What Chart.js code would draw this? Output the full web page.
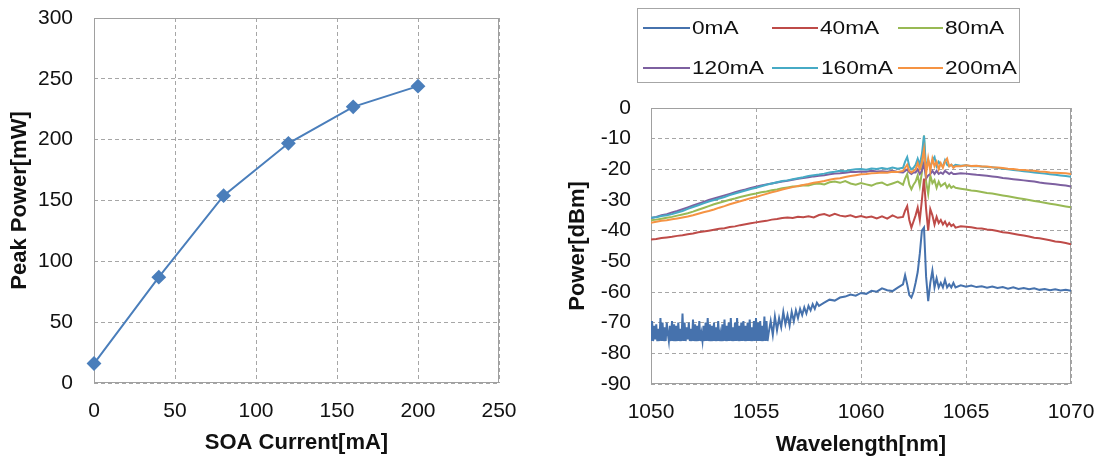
<!DOCTYPE html>
<html>
<head>
<meta charset="utf-8">
<script src="https://cdn.jsdelivr.net/npm/chart.js@4.4.1/dist/chart.umd.min.js"></script>
<style>
  body { margin: 0; background: #fff; width: 1101px; height: 461px; overflow: hidden; position: relative;
         font-family: "Liberation Sans", Arial, sans-serif; }
  canvas { position: absolute; top: 0; }
  #powerChart { left: 0; }
  #spectrumChart { left: 545px; }
  #legend { position: absolute; left: 637px; top: 8px; width: 381px; height: 73px; border: 1px solid #a6a6a6; }
  .lg-line { position: absolute; height: 2px; }
  .lg-text { position: absolute; font-size: 18px; line-height: 20px; color: #111; white-space: nowrap;
             transform: scaleX(1.26); transform-origin: left center; }
</style>
</head>
<body>
<canvas id="powerChart" width="540" height="461"></canvas>
<canvas id="spectrumChart" width="556" height="461"></canvas>
<div id="legend"></div>

<script>
// left panel: peak power vs SOA current
const currentMA = [0, 40, 80, 120, 160, 200];
const peakPowerMW = [16, 87, 154, 197, 227, 244];

// right panel: spectra
const seriesLabels = ['0mA', '40mA', '80mA', '120mA', '160mA', '200mA'];

// wavelength grid used by 40..200 mA traces
const wlMain = [
  1050, 1050.25, 1050.5, 1050.75, 1051, 1051.25, 1051.5, 1051.75, 1052, 1052.25, 1052.5, 1052.75,
  1053, 1053.25, 1053.5, 1053.75, 1054, 1054.25, 1054.5, 1054.75, 1055, 1055.25, 1055.5, 1055.75,
  1056, 1056.25, 1056.5, 1056.75, 1057, 1057.25, 1057.5, 1057.75, 1058, 1058.25, 1058.5, 1058.75,
  1059, 1059.25, 1059.5, 1059.75, 1060, 1060.25, 1060.5, 1060.75, 1061, 1061.25, 1061.5, 1061.75,
  1062, 1062.1, 1062.2, 1062.3, 1062.4, 1062.5, 1062.6, 1062.7, 1062.8, 1062.9,
  1063, 1063.1, 1063.2, 1063.3, 1063.4, 1063.5, 1063.6, 1063.7, 1063.8, 1063.9,
  1064, 1064.1, 1064.2, 1064.3, 1064.4, 1064.5,
  1064.75, 1065, 1065.25, 1065.5, 1065.75, 1066, 1066.25, 1066.5, 1066.75, 1067, 1067.25,
  1067.5, 1067.75, 1068, 1068.25, 1068.5, 1068.75, 1069, 1069.25, 1069.5, 1069.75, 1070
];

// finer grid for the noisy floor of the 0 mA trace (1050 .. 1058 nm)
const wlFloor = [
  1050, 1050.05, 1050.1, 1050.15, 1050.2, 1050.25, 1050.3, 1050.35, 1050.4, 1050.45,
  1050.5, 1050.55, 1050.6, 1050.65, 1050.7, 1050.75, 1050.8, 1050.85, 1050.9, 1050.95,
  1051, 1051.05, 1051.1, 1051.15, 1051.2, 1051.25, 1051.3, 1051.35, 1051.4, 1051.45,
  1051.5, 1051.55, 1051.6, 1051.65, 1051.7, 1051.75, 1051.8, 1051.85, 1051.9, 1051.95,
  1052, 1052.05, 1052.1, 1052.15, 1052.2, 1052.25, 1052.3, 1052.35, 1052.4, 1052.45,
  1052.5, 1052.55, 1052.6, 1052.65, 1052.7, 1052.75, 1052.8, 1052.85, 1052.9, 1052.95,
  1053, 1053.05, 1053.1, 1053.15, 1053.2, 1053.25, 1053.3, 1053.35, 1053.4, 1053.45,
  1053.5, 1053.55, 1053.6, 1053.65, 1053.7, 1053.75, 1053.8, 1053.85, 1053.9, 1053.95,
  1054, 1054.05, 1054.1, 1054.15, 1054.2, 1054.25, 1054.3, 1054.35, 1054.4, 1054.45,
  1054.5, 1054.55, 1054.6, 1054.65, 1054.7, 1054.75, 1054.8, 1054.85, 1054.9, 1054.95,
  1055, 1055.05, 1055.1, 1055.15, 1055.2, 1055.25, 1055.3, 1055.35, 1055.4, 1055.45,
  1055.5, 1055.55, 1055.6,
  1055.7, 1055.8, 1055.9, 1056, 1056.1, 1056.2, 1056.3, 1056.4, 1056.5, 1056.6, 1056.7, 1056.8,
  1056.9, 1057, 1057.1, 1057.2, 1057.3, 1057.4, 1057.5, 1057.6, 1057.7, 1057.8, 1057.9, 1058
];

const p0 = [
  // floor 1050.00 - 1055.60
  -76, -69.5, -76, -71, -75.5, -70.5, -76, -72, -76, -68.5,
  -76, -70, -76, -71.5, -76, -70, -73.5, -76, -71, -76,
  -69.5, -76, -70.5, -76, -71, -76, -70, -76, -72, -76,
  -67, -76, -70, -76, -71.5, -75.5, -70, -76, -72, -76,
  -69, -76, -70.5, -76, -71, -76, -69.5, -76, -73.5, -76,
  -71, -76, -70, -76, -68.5, -76, -70.5, -76, -71, -76,
  -70, -76, -71.5, -76, -69.5, -76, -73.5, -76, -70.5, -76,
  -69, -76, -71, -76, -70, -76, -68.5, -76, -71.5, -76,
  -70, -76, -68.5, -76, -71, -76, -70, -76, -69.5, -76,
  -71, -76, -70, -76, -69, -76, -71.5, -76, -69.5, -76,
  -68.5, -76, -70, -76, -69.5, -76, -71, -76, -68, -76,
  -69.5, -76, -73.5,
  // 1055.7 - 1058.0
  -69.5, -74, -68, -72.5, -68.5, -71.5, -66.5, -70.5, -67.5, -71, -66.5, -69.5,
  -66, -68.5, -65.5, -67.5, -65, -67, -64.5, -66, -64, -65.5, -63.5, -64.5,
  // 1058.25 - 1061.75
  -63.5, -62.5, -62.8, -61.8, -61.5, -60.8, -61.2, -60.3, -60.6, -59.6, -59.9, -58.8, -59.4, -59.7, -58.6,
  // 1062.0 - 1064.5
  -57.5, -54.5, -57.5, -61, -61.8, -60, -57, -53.5, -47.5, -40, -39, -55, -63,
  -57, -53, -58.5, -55.5, -58.5, -57, -58.5, -56, -58.5, -57.5, -58.5, -57, -58.5,
  // 1064.75 - 1070
  -57.8, -58.3, -57.9, -58.4, -58.1, -58.6, -58.2, -58.7, -58.4, -58.9, -58.5,
  -59.0, -58.7, -59.1, -58.8, -59.3, -59.0, -59.4, -59.1, -59.5, -59.3, -59.6
];

const p40 = [
  -42.9, -42.7, -42.4, -42.2, -42.0, -41.7, -41.5, -41.2, -40.9, -40.5, -40.3, -40.0,
  -39.7, -39.4, -39.2, -38.8, -38.6, -38.2, -37.9, -37.6, -37.3, -37.0, -36.8, -36.4,
  -36.2, -35.9, -35.7, -35.9, -35.5, -35.6, -35.3, -35.7, -34.9, -34.6, -35.2, -34.5,
  -35.1, -35.4, -35.0, -35.6, -35.2, -35.7, -35.4, -36.0, -35.3, -36.1, -35.0, -35.8,
  -35.5, -33.5, -32, -36.5, -39, -37, -35, -32.5, -36.5, -30,
  -23, -33, -40, -33, -35, -38, -35.5, -37.5, -36.5, -38,
  -37, -38.5, -37.5, -38.5, -38, -39,
  -38.6, -38.7, -38.9, -39.2, -39.3, -39.6, -39.8, -40.1, -40.5, -40.7, -41.0,
  -41.3, -41.6, -41.9, -42.3, -42.5, -42.8, -43.1, -43.5, -43.7, -44.0, -44.4
];

const p80 = [
  -36.6, -36.4, -36.1, -35.8, -35.5, -35.1, -34.7, -34.3, -33.8, -33.2, -32.6, -32.0,
  -31.4, -30.9, -30.4, -29.9, -29.5, -29.0, -28.6, -28.2, -27.9, -27.5, -27.2, -26.8,
  -26.6, -26.2, -25.9, -25.6, -25.5, -25.2, -25.3, -24.8, -24.6, -24.9, -24.2, -24.0,
  -24.4, -23.8, -24.6, -25.0, -24.5, -24.9, -25.3, -24.6, -24.3, -25.2, -24.6, -24.0,
  -25, -23, -21.5, -25, -26.5, -25, -24, -22, -25.5, -21,
  -9, -24, -28, -22, -24.5, -23.5, -26, -24, -25.5, -25,
  -24.5, -26, -25, -26, -25.5, -26,
  -26.3, -26.6, -26.9, -27.1, -27.4, -27.7, -27.9, -28.2, -28.5, -28.8, -29.1,
  -29.4, -29.7, -30.0, -30.3, -30.6, -30.9, -31.2, -31.5, -31.8, -32.1, -32.4
];

const p120 = [
  -35.9, -35.5, -35.0, -34.6, -34.1, -33.6, -33.0, -32.4, -31.8, -31.2, -30.6, -30.0,
  -29.5, -29.0, -28.5, -28.0, -27.5, -27.0, -26.6, -26.1, -25.7, -25.3, -24.9, -24.6,
  -24.3, -24.0, -23.7, -23.4, -23.1, -22.8, -22.6, -22.3, -22.1, -21.9, -21.6, -21.4,
  -21.3, -21.1, -20.9, -20.9, -20.7, -20.8, -20.5, -20.7, -20.6, -20.8, -20.5, -20.9,
  -21, -20.5, -20, -21, -21.5, -21, -21, -20, -21.5, -20.5,
  -18, -23, -22, -21.5, -20.5, -21.5, -20.5, -21.5, -21, -21.5,
  -20.5, -21, -21.5, -21, -21.5, -21.5,
  -21.3, -21.4, -21.6, -21.8, -21.9, -22.1, -22.3, -22.5, -22.8, -23.0, -23.2,
  -23.4, -23.6, -23.8, -24.0, -24.3, -24.5, -24.7, -24.9, -25.1, -25.3, -25.6
];

const p160 = [
  -35.8, -35.6, -35.2, -35.0, -34.6, -34.1, -33.6, -32.9, -32.3, -31.7, -31.1, -30.5,
  -30.0, -29.5, -29.0, -28.4, -27.9, -27.4, -26.9, -26.4, -26.0, -25.5, -25.0, -24.6,
  -24.2, -23.8, -23.6, -23.2, -22.9, -22.6, -22.2, -21.9, -21.7, -21.4, -21.0, -20.8,
  -20.5, -20.6, -20.2, -20.0, -19.9, -20.1, -19.7, -19.9, -19.6, -19.9, -19.4, -19.8,
  -19.5, -17.5, -16, -19, -20, -19.5, -18.5, -16.5, -18.5, -15,
  -9, -20, -17, -19.5, -17, -16, -19, -17.5, -18.5, -19,
  -17, -18.5, -19, -18.5, -19, -18.5,
  -18.8, -18.7, -19.0, -18.9, -19.1, -19.2, -19.3, -19.6, -19.8, -20.0, -20.2,
  -20.4, -20.6, -20.8, -21.0, -21.2, -21.4, -21.6, -21.8, -22.0, -22.2, -22.4
];

const p200 = [
  -37.4, -37.1, -36.8, -36.6, -36.3, -36.0, -35.7, -35.4, -35.0, -34.5, -34.0, -33.6,
  -33.1, -32.5, -32.0, -31.4, -30.9, -30.4, -29.9, -29.4, -29.0, -28.5, -28.0, -27.5,
  -27.1, -26.6, -26.2, -25.8, -25.4, -25.1, -24.8, -24.4, -24.1, -23.8, -23.4, -23.1,
  -22.9, -22.5, -22.2, -21.9, -21.6, -21.5, -21.3, -21.2, -21.0, -21.1, -20.8, -20.9,
  -20.5, -19.5, -18.5, -20.5, -21, -20.5, -20, -18, -20, -17.5,
  -13.5, -21.5, -16.5, -20.5, -16.5, -19, -17.5, -20, -18, -19.5,
  -17.5, -16.5, -19, -18.5, -19.5, -19,
  -19.0, -18.7, -18.9, -18.8, -19.1, -19.1, -19.3, -19.4, -19.6, -19.8, -19.9,
  -20.1, -20.2, -20.4, -20.5, -20.7, -20.8, -21.0, -21.1, -21.2, -21.3, -21.5
];

const seriesColors = ['#4672ad', '#be4b48', '#98b954', '#7d60a0', '#46aac5', '#f59343'];

const fontFamily = '"Liberation Sans", Arial, sans-serif';
const gridColor = '#a6a6a6';

// solid box round the plot area, under the data
const framePlugin = {
  id: 'frame',
  beforeDatasetsDraw(chart) {
    const { ctx, chartArea: a } = chart;
    ctx.save();
    ctx.strokeStyle = '#a0a0a0';
    ctx.lineWidth = 1;
    const l = Math.round(a.left) + 0.5, t = Math.round(a.top) + 0.5;
    const r = Math.round(a.right) - 0.5, b = Math.round(a.bottom) - 0.5;
    ctx.strokeRect(l, t, r - l, b - t);
    ctx.restore();
  }
};

// gap between tick label and axis goes in tickLength (invisible ticks), so it doesn't eat layout padding
function axis(min, max, step, title, opts) {
  return {
    type: 'linear', min: min, max: max,
    ticks: { stepSize: step, color: '#111', padding: 0, font: { family: fontFamily, size: 21 },
             callback: v => String(v) },
    grid: { color: gridColor, lineWidth: 1, drawTicks: true, tickLength: opts.gap, tickColor: 'rgba(0,0,0,0)' },
    border: { display: false, dash: [4, 3] },
    title: { display: true, text: title, color: '#111', padding: opts.titlePad,
             font: { family: fontFamily, size: 22, weight: 'bold' } },
    afterFit: opts.fit
  };
}

// left chart
new Chart(document.getElementById('powerChart'), {
  type: 'line',
  data: {
    datasets: [{
      data: currentMA.map((c, i) => ({ x: c, y: peakPowerMW[i] })),
      borderColor: '#4a7ebb', backgroundColor: '#4a7ebb', borderWidth: 2,
      pointStyle: 'rectRot', pointRadius: 6, pointHoverRadius: 6, clip: false
    }]
  },
  options: {
    responsive: false, animation: false, events: [],
    layout: { padding: { top: 18, right: 41, left: 0, bottom: 0 } },
    plugins: { legend: { display: false }, tooltip: { enabled: false } },
    scales: {
      x: axis(0, 250, 50, 'SOA Current[mA]', { gap: 16, titlePad: { bottom: 5 }, fit: s => { s.height = 78; } }),
      y: axis(0, 300, 50, 'Peak Power[mW]', { gap: 21, titlePad: { top: 7 }, fit: s => { s.width = 94; } })
    }
  },
  plugins: [framePlugin]
});

// right chart
const spectra = [p0, p40, p80, p120, p160, p200];
const wl0 = wlFloor.concat(wlMain.slice(33));

new Chart(document.getElementById('spectrumChart'), {
  type: 'line',
  data: {
    datasets: spectra.map((ys, i) => {
      const xs = i === 0 ? wl0 : wlMain;
      return {
        label: seriesLabels[i],
        data: ys.map((y, k) => ({ x: xs[k], y: y })),
        borderColor: seriesColors[i], borderWidth: 2,
        pointRadius: 0, tension: 0, order: spectra.length - i
      };
    })
  },
  options: {
    responsive: false, animation: false, events: [],
    layout: { padding: { top: 108, right: 30, left: 0, bottom: 0 } },
    plugins: { legend: { display: false }, tooltip: { enabled: false } },
    scales: {
      x: axis(1050, 1070, 5, 'Wavelength[nm]', { gap: 16, titlePad: { bottom: 3 }, fit: s => { s.height = 77; } }),
      y: axis(-90, 0, 10, 'Power[dBm]', { gap: 20, titlePad: { top: 20 }, fit: s => { s.width = 106; } })
    }
  },
  plugins: [framePlugin]
});

// legend box, two rows of three
const legendSlots = [
  { x1: 643, x2: 690, tx: 692, y: 28 }, { x1: 772, x2: 818, tx: 820, y: 28 }, { x1: 898, x2: 943, tx: 945, y: 28 },
  { x1: 643, x2: 690, tx: 692, y: 68 }, { x1: 772, x2: 818, tx: 821, y: 68 }, { x1: 898, x2: 943, tx: 945, y: 68 }
];
const legendBox = document.getElementById('legend');
seriesLabels.forEach((name, i) => {
  const s = legendSlots[i];
  const line = document.createElement('div');
  line.className = 'lg-line';
  line.style.left = (s.x1 - 638) + 'px';
  line.style.top = (s.y - 9 - 1) + 'px';
  line.style.width = (s.x2 - s.x1) + 'px';
  line.style.background = seriesColors[i];
  legendBox.appendChild(line);
  const txt = document.createElement('span');
  txt.className = 'lg-text';
  txt.textContent = name;
  txt.style.left = (s.tx - 638) + 'px';
  txt.style.top = (s.y - 9 - 10) + 'px';
  legendBox.appendChild(txt);
});
</script>
</body>
</html>
